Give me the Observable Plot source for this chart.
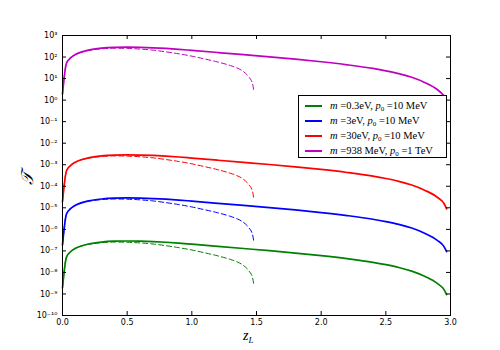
<!DOCTYPE html>
<html><head><meta charset="utf-8">
<script src="https://cdn.jsdelivr.net/npm/d3@7"></script>
<script src="https://cdn.jsdelivr.net/npm/@observablehq/plot@0.6"></script>
<style>
body{margin:0;background:#fff}
#wrap{position:relative;width:500px;height:350px;overflow:hidden}
#legend{position:absolute;left:298px;top:95px;width:149px;height:63px;border:1px solid #000;background:#fff;box-sizing:border-box;font-family:"Liberation Serif",serif;font-size:10.5px;color:#000}
.row{position:absolute;left:0;height:15px;line-height:15px;width:100%}
.sw{position:absolute;left:6px;top:7px;width:17px;height:2px}
.lt{position:absolute;left:31px;top:0;white-space:nowrap}
.lt sub{font-size:7px;vertical-align:-2px}
#xl{position:absolute;left:243px;top:328px;font-family:"Liberation Serif",serif;font-style:italic;font-size:14px}
#xl sub{font-size:9px;vertical-align:-3px}
#yl{position:absolute;left:20px;top:168px;font-family:"DejaVu Serif",serif;font-style:italic;font-size:17px;transform:rotate(-90deg);transform-origin:center}
</style></head><body><div id="wrap"></div><script>
// z values (solid curves reach z ~ 3, dashed stop at z ~ 1.48)
const zSolid = [0, 0.03, 0.06, 0.1, 0.15, 0.2, 0.3, 0.4, 0.5, 0.6, 0.7, 0.8, 0.9, 1.0, 1.2, 1.4, 1.6, 1.8, 2.0, 2.2, 2.4, 2.5, 2.6, 2.7, 2.8, 2.9, 2.95, 2.97];
const zDashed = [0, 0.03, 0.06, 0.1, 0.15, 0.2, 0.3, 0.4, 0.5, 0.6, 0.7, 0.8, 0.9, 1.0, 1.1, 1.2, 1.3, 1.35, 1.4, 1.44, 1.47, 1.48];

// log10(T) (solid curves); magenta ends at z = 2.95
const solidGreen   = [-8.72, -7.30, -7.05, -6.88, -6.76, -6.68, -6.59, -6.55, -6.54, -6.55, -6.57, -6.60, -6.64, -6.69, -6.79, -6.89, -6.99, -7.10, -7.22, -7.36, -7.53, -7.64, -7.77, -7.94, -8.18, -8.52, -8.80, -9.03];
const solidBlue    = [-6.72, -5.30, -5.05, -4.88, -4.76, -4.68, -4.59, -4.55, -4.54, -4.55, -4.57, -4.60, -4.64, -4.69, -4.79, -4.89, -4.99, -5.10, -5.22, -5.36, -5.53, -5.64, -5.77, -5.94, -6.18, -6.52, -6.80, -7.03];
const solidRed     = [-4.72, -3.30, -3.05, -2.88, -2.76, -2.68, -2.59, -2.55, -2.54, -2.55, -2.57, -2.60, -2.64, -2.69, -2.79, -2.89, -2.99, -3.10, -3.22, -3.36, -3.53, -3.64, -3.77, -3.94, -4.18, -4.52, -4.80, -5.05];
const solidMagenta = [0.28, 1.70, 1.95, 2.12, 2.24, 2.32, 2.41, 2.45, 2.46, 2.45, 2.43, 2.40, 2.36, 2.31, 2.21, 2.11, 2.01, 1.90, 1.78, 1.64, 1.47, 1.36, 1.23, 1.06, 0.82, 0.48, 0.21, null];

// log10(T) of the dashed curves
const dashGreen   = [-8.72, -7.30, -7.05, -6.88, -6.77, -6.70, -6.62, -6.59, -6.60, -6.63, -6.68, -6.76, -6.85, -6.96, -7.09, -7.23, -7.40, -7.51, -7.68, -7.92, -8.25, -8.63];
const dashBlue    = [-6.72, -5.30, -5.05, -4.88, -4.77, -4.70, -4.62, -4.59, -4.60, -4.63, -4.68, -4.76, -4.85, -4.96, -5.09, -5.23, -5.40, -5.51, -5.68, -5.92, -6.25, -6.63];
const dashRed     = [-4.72, -3.30, -3.05, -2.88, -2.77, -2.70, -2.62, -2.59, -2.60, -2.63, -2.68, -2.76, -2.85, -2.96, -3.09, -3.23, -3.40, -3.51, -3.68, -3.92, -4.25, -4.63];
const dashMagenta = [0.28, 1.70, 1.95, 2.12, 2.23, 2.30, 2.38, 2.41, 2.40, 2.37, 2.32, 2.24, 2.15, 2.04, 1.91, 1.77, 1.60, 1.49, 1.32, 1.08, 0.75, 0.37];

const seriesNames  = ["green", "blue", "red", "magenta"];
const seriesColors = ["#008000", "#0000ff", "#ff0000", "#bf00bf"];
const legendLabels = [
  "<i>m</i> =0.3eV, <i>p</i><sub>0</sub> =10 MeV",
  "<i>m</i> =3eV, <i>p</i><sub>0</sub> =10 MeV",
  "<i>m</i> =30eV, <i>p</i><sub>0</sub> =10 MeV",
  "<i>m</i> =938 MeV, <i>p</i><sub>0</sub> =1 TeV"
];
const xTicks = [0, 0.5, 1.0, 1.5, 2.0, 2.5, 3.0];
const yExponents = [-10, -9, -8, -7, -6, -5, -4, -3, -2, -1, 0, 1, 2, 3];

const solids = [solidGreen, solidBlue, solidRed, solidMagenta];
const dashes = [dashGreen, dashBlue, dashRed, dashMagenta];

const toRows = (zs, es) => zs.map((z, i) => ({z, v: es[i] == null ? NaN : Math.pow(10, es[i])})).filter(d => !isNaN(d.v));

const supMap = {"-": "\u207B", "0": "\u2070", "1": "\u00B9", "2": "\u00B2", "3": "\u00B3", "4": "\u2074", "5": "\u2075", "6": "\u2076", "7": "\u2077", "8": "\u2078", "9": "\u2079"};
const fmtY = d => "10" + String(Math.round(Math.log10(d))).split("").map(c => supMap[c]).join("");
const yTicks = yExponents.map(k => Math.pow(10, k));

const marks = [];
seriesNames.forEach((name, i) => {
  marks.push(Plot.line(toRows(zDashed, dashes[i]), {x: "z", y: "v", stroke: seriesColors[i], strokeWidth: 1, strokeDasharray: "5,3", curve: "monotone-x"}));
});
seriesNames.forEach((name, i) => {
  marks.push(Plot.line(toRows(zSolid, solids[i]), {x: "z", y: "v", stroke: seriesColors[i], strokeWidth: 1.7, curve: "monotone-x"}));
});

const W = 500, H = 350, mL = 62, mR = 50, mT = 35, mB = 35;
const innerW = W - mL - mR, innerH = H - mT - mB;
const tl = 4;

marks.push(
  Plot.tickX(xTicks, {x: d => d, insetTop: innerH - tl, stroke: "#000"}),
  Plot.tickX(xTicks, {x: d => d, insetBottom: innerH - tl, stroke: "#000"}),
  Plot.tickY(yTicks, {y: d => d, insetRight: innerW - tl, stroke: "#000"}),
  Plot.tickY(yTicks, {y: d => d, insetLeft: innerW - tl, stroke: "#000"}),
  Plot.axisX({ticks: xTicks, tickSize: 0, tickPadding: 4, tickFormat: d => d.toFixed(1), label: null, fontSize: 8}),
  Plot.axisY({ticks: yTicks, tickSize: 0, tickPadding: 5, tickFormat: fmtY, label: null, fontSize: 8}),
  Plot.frame({stroke: "#000", strokeWidth: 1})
);

const chart = Plot.plot({
  width: W, height: H,
  marginLeft: mL, marginRight: mR, marginTop: mT, marginBottom: mB,
  style: {fontFamily: "DejaVu Sans, sans-serif", fontSize: "8px", color: "#000", background: "#fff"},
  x: {domain: [0, 3]},
  y: {type: "log", domain: [1e-10, 1e3]},
  marks
});

const wrap = document.getElementById("wrap");
wrap.appendChild(chart);

const leg = document.createElement("div");
leg.id = "legend";
leg.innerHTML = legendLabels.map((t, i) =>
  `<div class="row" style="top:${2 + 15 * i}px"><div class="sw" style="background:${seriesColors[i]}"></div><div class="lt">${t}</div></div>`
).join("");
wrap.appendChild(leg);

const xl = document.createElement("div");
xl.id = "xl";
xl.innerHTML = "z<sub>L</sub>";
wrap.appendChild(xl);

const yl = document.createElement("div");
yl.id = "yl";
yl.textContent = "\uD835\uDCAF";
wrap.appendChild(yl);
</script></body></html>
